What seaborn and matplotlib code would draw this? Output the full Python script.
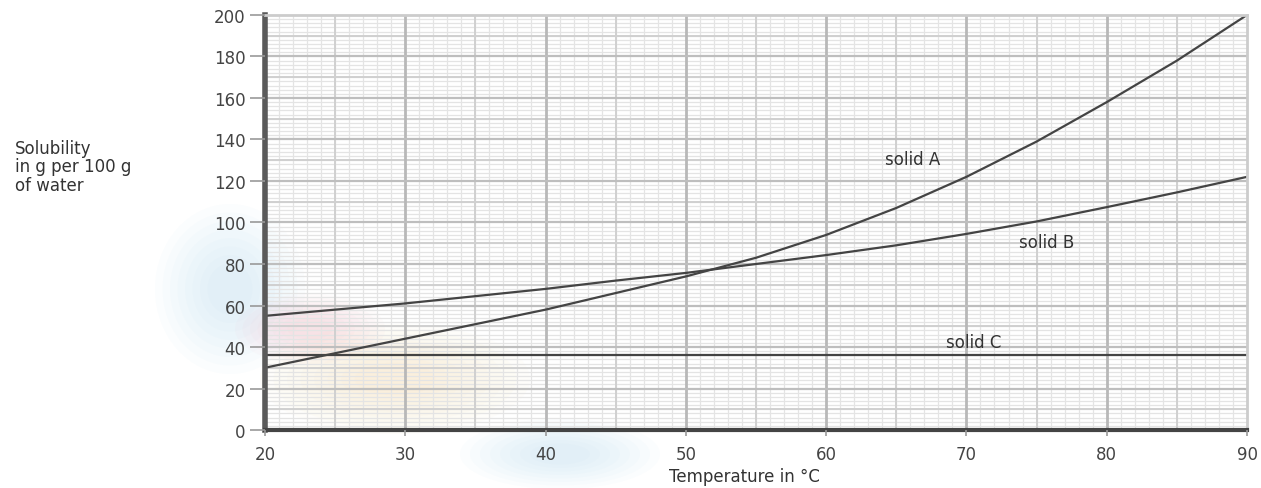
import numpy as np
import pandas as pd
import seaborn as sns
import matplotlib.pyplot as plt
from matplotlib.patches import Ellipse
from matplotlib.ticker import MultipleLocator

# values
temp = [20, 25, 30, 35, 40, 45, 50, 55, 60, 65, 70, 75, 80, 85, 90]
solid_a = [30, 37, 44, 51, 58, 66, 74, 83, 94, 107, 122, 139, 158, 178, 200]
solid_b = [55, 58, 61, 64.5, 68, 72, 75.7, 80, 84.3, 89, 94.5, 100.5, 107.4, 114.5, 122]
solid_c = [36] * len(temp)

labels = ['solid A', 'solid B', 'solid C']
label_x = [66.2, 75.7, 70.5]
label_y = [130.5, 90.5, 42.5]

df = pd.DataFrame({'temp': temp * 3,
                   'solubility': solid_a + solid_b + solid_c,
                   'solid': sum([[l] * len(temp) for l in labels], [])})

sns.set_theme(style='white')
plt.rcParams['font.family'] = ['DejaVu Sans']

fig = plt.figure(figsize=(12.61, 4.89), dpi=100)
ax = fig.add_axes([0.2101, 0.1186, 0.7788, 0.8487])
ax.patch.set_alpha(0)


def blob(cx, cy, w, h, color):
    # soft faded smudge behind the graph paper (pixels from top-left)
    for k in np.linspace(1, 0.3, 8):
        fig.patches.append(Ellipse((cx / 1261, 1 - cy / 489), k * w / 1261, k * h / 489,
                                   transform=fig.transFigure, color=color,
                                   alpha=0.045, lw=0, zorder=-5))


blob(230, 290, 150, 170, '#a9d3f2')
blob(310, 330, 150, 70, '#f6a9b8')
blob(395, 380, 270, 110, '#fad99a')
blob(560, 455, 200, 70, '#a9d3f2')

# graph paper grid: fine lines, 5-unit lines, 10-unit lines
ax.xaxis.set_major_locator(MultipleLocator(10))
ax.xaxis.set_minor_locator(MultipleLocator(1))
ax.yaxis.set_major_locator(MultipleLocator(20))
ax.yaxis.set_minor_locator(MultipleLocator(2))
ax.grid(which='minor', color='#e4e4e4', lw=0.9)
ax.set_axisbelow(True)
for v in range(25, 90, 10):
    ax.axvline(v, color='#d0d0d0', lw=1.4, zorder=0.6)
for v in range(10, 200, 20):
    ax.axhline(v, color='#d0d0d0', lw=1.4, zorder=0.6)
for v in range(30, 90, 10):
    ax.axvline(v, color='#b8b8b8', lw=2, zorder=0.7)
for v in range(20, 200, 20):
    ax.axhline(v, color='#bebebe', lw=1.6, zorder=0.7)

sns.lineplot(data=df, x='temp', y='solubility', units='solid', estimator=None,
             color='#444444', lw=1.6, ax=ax, legend=False)

for t, x, y in zip(labels, label_x, label_y):
    ax.text(x, y, t, ha='center', va='center', fontsize=12, color='#333333')

ax.set_xlim(20, 90)
ax.set_ylim(0, 200)
ax.set_xlabel('')
ax.set_ylabel('')
fig.text(0.59, 0.024, 'Temperature in °C', ha='center', va='center',
         fontsize=12, color='#333333')
fig.text(0.012, 0.658, 'Solubility\nin g per 100 g\nof water', ha='left', va='center',
         fontsize=12, color='#333333', linespacing=1.05)

ax.spines['left'].set_color('#5a5a5a')
ax.spines['left'].set_linewidth(4)
ax.spines['bottom'].set_color('#444444')
ax.spines['bottom'].set_linewidth(3)
ax.spines['top'].set_color('#cccccc')
ax.spines['top'].set_linewidth(2)
ax.spines['right'].set_color('#cccccc')
ax.spines['right'].set_linewidth(2)

ax.tick_params(which='minor', length=0)
ax.tick_params(which='major', axis='y', length=11, width=0, labelsize=12,
               labelcolor='#444444', pad=3, left=True)
ax.tick_params(which='major', axis='x', length=4, width=0, labelsize=12,
               labelcolor='#444444', pad=7, bottom=True)

# tick stubs drawn on top, at the locator's own tick positions
yt = [v for v in ax.get_yticks() if 0 <= v <= 200]
xt = [v for v in ax.get_xticks() if 20 <= v <= 90]
ax.plot([20] * len(yt), yt, ls='none', marker=0, ms=11, mew=1.2,
        color='#999999', clip_on=False, zorder=5)
ax.plot(xt, [0] * len(xt), ls='none', marker=3, ms=4, mew=1.2,
        color='#999999', clip_on=False, zorder=5)

fig.savefig('out.png', dpi=100)
